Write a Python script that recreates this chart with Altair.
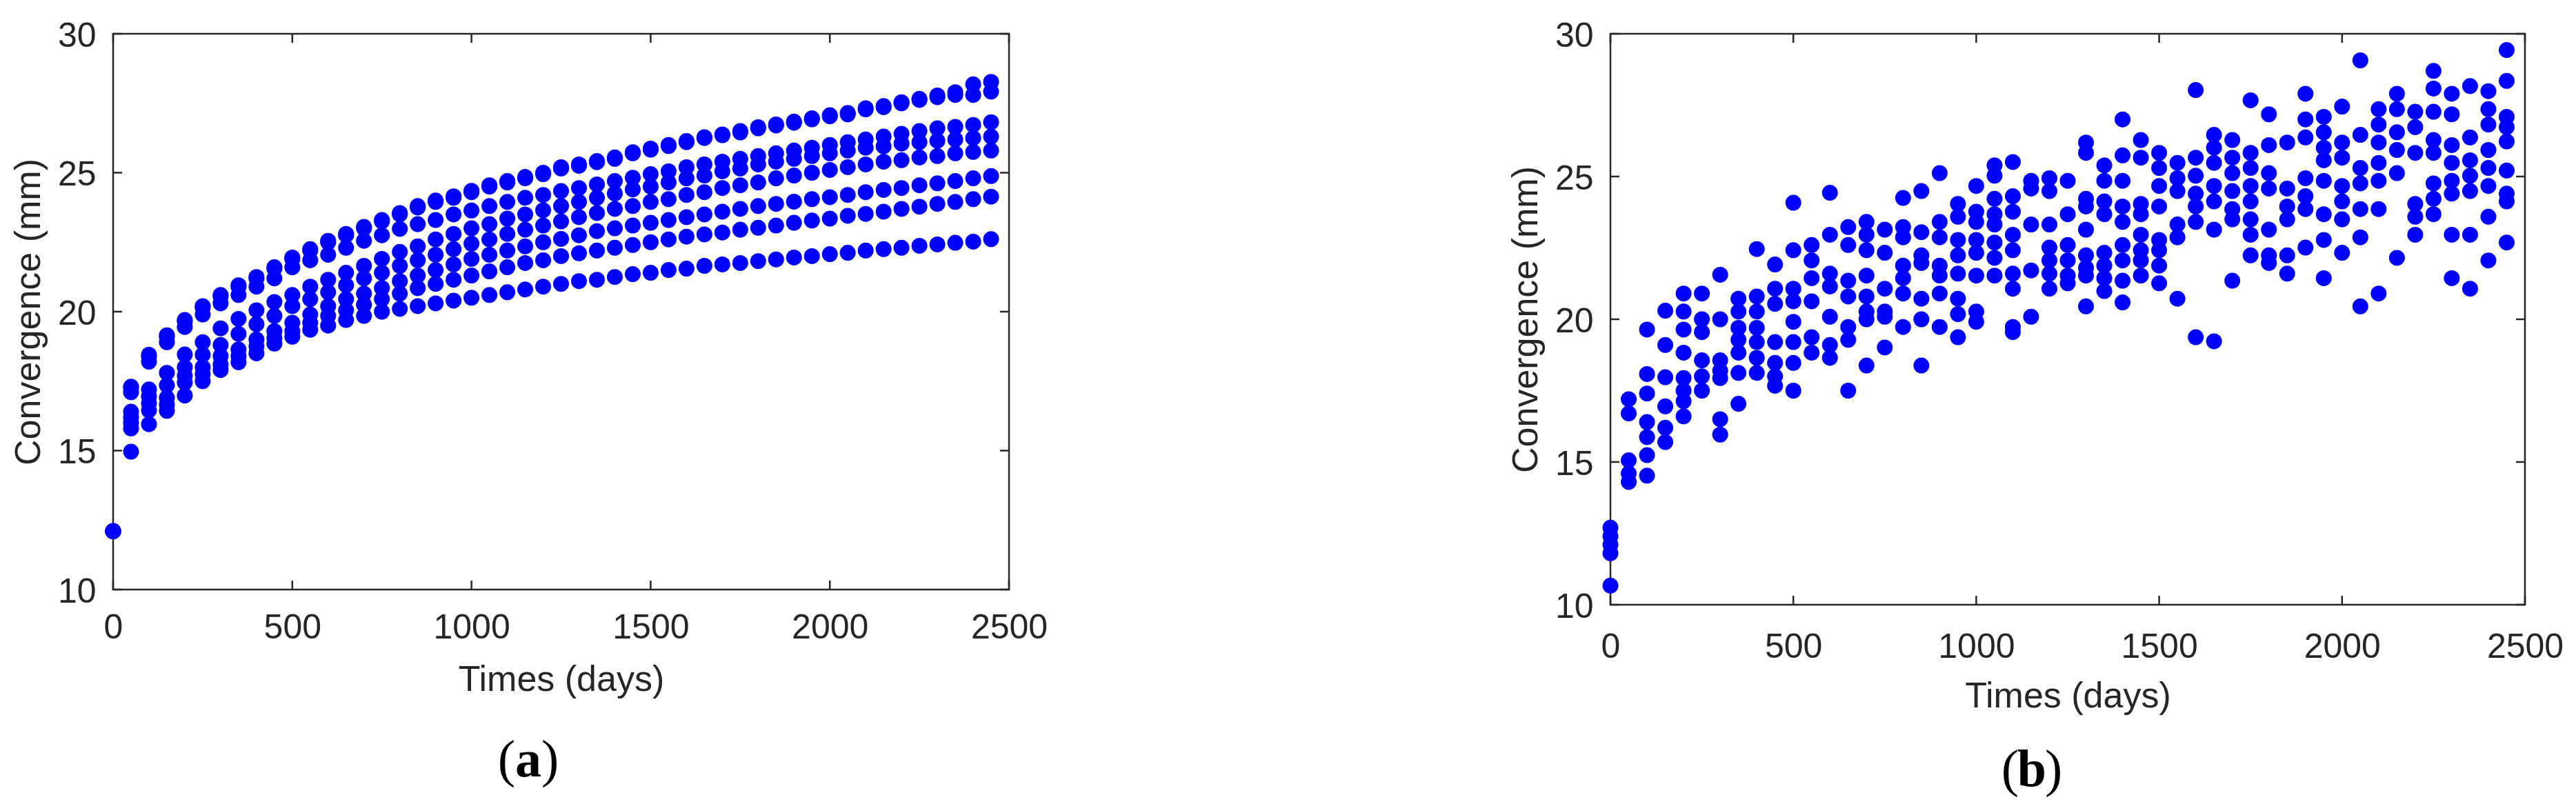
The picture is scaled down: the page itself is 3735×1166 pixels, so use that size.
import altair as alt

# ---------------- data ----------------
days = [0, 50, 100, 150, 200, 250, 300, 350, 400, 450, 500, 550, 600, 650, 700,
        750, 800, 850, 900, 950, 1000, 1050, 1100, 1150, 1200, 1250, 1300, 1350,
        1400, 1450, 1500, 1550, 1600, 1650, 1700, 1750, 1800, 1850, 1900, 1950,
        2000, 2050, 2100, 2150, 2200, 2250, 2300, 2350, 2400, 2450]

# panel (a): smooth predicted curves
a_s1a = [12.1, 17.25, 18.4, 19.1, 19.65, 20.15, 20.55, 20.9, 21.2, 21.55, 21.9, 22.2, 22.5, 22.75, 23.0,
         23.25, 23.5, 23.75, 23.95, 24.1, 24.3, 24.5, 24.65, 24.8, 24.95, 25.15, 25.25, 25.38, 25.5, 25.7,
         25.83, 25.96, 26.1, 26.25, 26.35, 26.45, 26.6, 26.7, 26.8, 26.92, 27.03, 27.1, 27.28, 27.36, 27.5,
         27.62, 27.72, 27.8, 27.8, 27.92]
a_s1b = [12.1, 17.3, 18.45, 19.15, 19.7, 20.2, 20.6, 20.95, 21.25, 21.6, 21.95, 22.25, 22.55, 22.8, 23.05,
         23.3, 23.55, 23.8, 24.0, 24.15, 24.35, 24.55, 24.7, 24.85, 25.0, 25.2, 25.3, 25.42, 25.55, 25.74,
         25.87, 26.0, 26.14, 26.28, 26.38, 26.5, 26.64, 26.74, 26.84, 26.96, 27.07, 27.15, 27.32, 27.4, 27.54,
         27.66, 27.78, 27.9, 28.18, 28.27]
a_s2 = [12.1, 17.1, 18.2, 18.9, 19.45, 19.9, 20.3, 20.6, 20.9, 21.2, 21.6, 21.85, 22.05, 22.3, 22.55,
        22.75, 22.98, 23.15, 23.3, 23.5, 23.64, 23.8, 23.95, 24.1, 24.2, 24.34, 24.45, 24.58, 24.7, 24.82,
        24.95, 25.05, 25.2, 25.3, 25.4, 25.5, 25.6, 25.7, 25.8, 25.9, 26.0, 26.1, 26.2, 26.3, 26.4,
        26.5, 26.6, 26.65, 26.72, 26.82]
a_b1 = [12.1, 16.4, 17.2, 17.8, 18.46, 18.9, 19.4, 19.74, 20.05, 20.35, 20.6, 20.9, 21.15, 21.4, 21.65,
        21.9, 22.15, 22.35, 22.6, 22.8, 23.0, 23.15, 23.35, 23.5, 23.65, 23.8, 23.95, 24.1, 24.25, 24.4,
        24.5, 24.65, 24.8, 24.9, 25.05, 25.15, 25.3, 25.4, 25.5, 25.6, 25.7, 25.8, 25.9, 25.95, 26.05,
        26.1, 26.15, 26.2, 26.25, 26.3]
a_b2 = [12.1, 16.2, 16.95, 17.35, 18.0, 18.45, 18.8, 19.2, 19.55, 19.85, 20.2, 20.45, 20.7, 20.95, 21.2,
        21.4, 21.65, 21.85, 22.05, 22.25, 22.45, 22.6, 22.8, 22.95, 23.1, 23.25, 23.4, 23.55, 23.7, 23.8,
        23.95, 24.05, 24.2, 24.3, 24.45, 24.55, 24.65, 24.8, 24.9, 25.0, 25.1, 25.2, 25.3, 25.4, 25.45,
        25.55, 25.6, 25.7, 25.75, 25.8]
a_b3 = [12.1, 16.0, 16.7, 16.9, 17.7, 18.0, 18.4, 18.64, 19.0, 19.3, 19.6, 19.9, 20.2, 20.45, 20.65,
        20.85, 21.1, 21.3, 21.5, 21.7, 21.9, 22.05, 22.2, 22.35, 22.5, 22.62, 22.75, 22.9, 23.0, 23.1,
        23.2, 23.3, 23.4, 23.5, 23.6, 23.7, 23.8, 23.88, 23.96, 24.05, 24.12, 24.2, 24.3, 24.38, 24.45,
        24.55, 24.62, 24.7, 24.8, 24.88]
a_b4 = [12.1, 15.8, 16.45, 16.65, 17.45, 17.75, 18.1, 18.4, 18.75, 19.05, 19.3, 19.6, 19.85, 20.05, 20.25,
        20.45, 20.65, 20.85, 21.0, 21.15, 21.3, 21.45, 21.6, 21.75, 21.85, 22.0, 22.1, 22.2, 22.3, 22.4,
        22.5, 22.6, 22.7, 22.78, 22.85, 22.95, 23.02, 23.1, 23.2, 23.28, 23.35, 23.45, 23.52, 23.6, 23.7,
        23.78, 23.88, 23.95, 24.05, 24.14]
a_low = [12.1, 14.96, 15.95, 16.43, 16.98, 17.5, 17.9, 18.18, 18.5, 18.85, 19.1, 19.35, 19.5, 19.7, 19.85,
         20.0, 20.1, 20.2, 20.3, 20.4, 20.5, 20.6, 20.7, 20.8, 20.9, 21.0, 21.1, 21.15, 21.25, 21.35,
         21.4, 21.5, 21.55, 21.65, 21.7, 21.75, 21.82, 21.88, 21.95, 22.0, 22.07, 22.12, 22.2, 22.25, 22.3,
         22.37, 22.42, 22.48, 22.52, 22.61]

# panel (b): measured convergence, one list per day
b_cols = [
    [12.7, 12.4, 12.1, 11.8, 10.67],
    [17.2, 16.7, 15.06, 14.6, 14.3],
    [19.64, 18.08, 17.4, 16.4, 15.87, 15.24, 14.52],
    [20.3, 19.1, 17.97, 16.95, 16.2, 15.7],
    [20.9, 20.27, 19.64, 18.83, 17.94, 17.5, 17.13, 16.6],
    [20.9, 20.0, 19.55, 18.56, 18.0, 17.5],
    [21.56, 20.0, 18.56, 18.2, 17.94, 16.5, 15.96],
    [20.72, 20.27, 19.7, 19.28, 18.83, 18.12, 17.04],
    [22.46, 20.8, 20.27, 19.7, 19.2, 18.65, 18.12],
    [21.92, 21.07, 20.54, 19.2, 18.47, 18.0, 17.67],
    [24.08, 22.42, 21.07, 20.63, 19.91, 19.2, 18.47, 17.5],
    [22.6, 22.06, 21.44, 20.63, 19.37, 18.83],
    [24.43, 22.96, 21.6, 21.15, 20.09, 19.1, 18.65],
    [23.23, 22.6, 21.35, 20.8, 19.73, 19.28, 17.5],
    [23.41, 22.96, 22.42, 21.53, 20.8, 20.27, 20.0, 18.38],
    [23.14, 22.33, 21.07, 20.27, 20.09, 19.01],
    [24.25, 23.23, 22.87, 21.88, 21.44, 20.9, 19.73],
    [24.49, 23.05, 22.24, 21.97, 20.72, 20.0, 18.38],
    [25.12, 23.41, 22.87, 21.88, 21.53, 20.9, 19.73],
    [24.04, 23.59, 22.78, 22.24, 21.6, 20.72, 20.18, 19.37],
    [24.67, 23.77, 23.41, 22.78, 22.33, 21.53, 20.27, 19.91],
    [25.39, 25.03, 24.22, 23.68, 23.32, 22.69, 22.15, 21.53],
    [25.51, 24.31, 23.77, 22.96, 22.42, 21.6, 21.07, 19.73, 19.55],
    [24.85, 24.58, 23.32, 21.71, 20.09],
    [24.94, 24.49, 23.32, 22.51, 22.06, 21.6, 21.07],
    [24.85, 23.68, 22.6, 22.06, 21.53, 21.26],
    [26.19, 25.83, 24.22, 23.95, 23.14, 22.24, 21.8, 21.53, 20.45],
    [25.39, 24.85, 24.13, 23.68, 22.33, 21.88, 21.44, 20.99],
    [27.0, 25.74, 24.85, 23.95, 23.41, 22.6, 22.06, 21.35, 20.59],
    [26.28, 25.66, 24.04, 23.68, 22.96, 22.42, 22.06, 21.53],
    [25.83, 25.3, 24.67, 23.95, 22.78, 22.42, 21.88, 21.26],
    [25.48, 24.94, 24.49, 23.32, 22.87, 20.72],
    [28.03, 25.66, 25.03, 24.4, 23.95, 23.41, 19.37],
    [26.46, 26.01, 25.48, 24.67, 24.13, 23.14, 19.23],
    [26.28, 25.66, 25.12, 24.49, 23.86, 23.5, 21.35],
    [27.67, 25.83, 25.3, 24.67, 24.13, 23.5, 22.96, 22.24],
    [27.18, 26.1, 25.12, 24.58, 23.14, 22.24, 21.97],
    [26.19, 24.58, 23.95, 23.5, 22.24, 21.6],
    [27.9, 27.0, 26.37, 24.94, 24.31, 23.86, 22.51],
    [27.09, 26.55, 26.01, 25.57, 24.85, 23.68, 22.78, 21.44],
    [27.45, 26.19, 25.66, 24.67, 24.13, 23.5, 22.33],
    [29.07, 26.46, 25.3, 24.76, 23.86, 22.87, 20.45],
    [27.36, 26.82, 26.19, 25.48, 24.85, 23.86, 20.9],
    [27.9, 27.36, 26.55, 25.93, 25.12, 22.15],
    [27.27, 26.73, 25.83, 24.04, 23.59, 22.96],
    [28.7, 28.08, 27.27, 26.28, 25.83, 24.76, 24.22, 23.68],
    [27.9, 27.18, 26.1, 25.48, 24.85, 24.4, 22.96, 21.44],
    [28.17, 26.37, 25.57, 25.03, 24.49, 22.96, 21.07],
    [27.99, 27.36, 26.82, 25.93, 25.3, 24.67, 23.59, 22.06],
    [29.43, 28.35, 27.09, 26.73, 26.23, 25.21, 24.4, 24.13, 22.69],
]

x_ticks = [0, 500, 1000, 1500, 2000, 2500]
y_ticks = [10, 15, 20, 25, 30]
x_title = "Times (days)"
y_title = "Convergence (mm)"

rows_a = [{"day": d, "conv": v}
          for s in [a_s1a, a_s1b, a_s2, a_b1, a_b2, a_b3, a_b4, a_low]
          for d, v in zip(days, s)]
rows_b = [{"day": d, "conv": v} for d, col in zip(days, b_cols) for v in col]

# ---------------- styling ----------------
FONT = "Liberation Sans"
SERIF = "Liberation Serif"
TXT = "#262626"
BLUE = "#0000FF"
TICK = 13


def panel(rows, W, H, letter, cap_x, cap_y, xlab_pad, xtitle_pad, spacer=None):
    xs = alt.Scale(domain=[0, 2500], nice=False, zero=False)
    ys = alt.Scale(domain=[10, 30], nice=False, zero=False)
    xaxis = alt.Axis(
        values=x_ticks, format="d", title=x_title, grid=False, domain=False,
        ticks=False, tickSize=0, labelPadding=xlab_pad, labelFont=FONT,
        labelFontSize=50, labelColor=TXT, labelFlush=False, labelOverlap=False,
        titleFont=FONT, titleFontSize=52, titleFontWeight="normal",
        titleColor=TXT, titlePadding=xtitle_pad)
    yaxis = alt.Axis(
        values=y_ticks, format="d", title=y_title, grid=False, domain=False,
        ticks=False, tickSize=0, labelPadding=25, labelOffset=3, labelFont=FONT,
        labelFontSize=50, labelColor=TXT, labelFlush=False, labelOverlap=False,
        titleFont=FONT, titleFontSize=52, titleFontWeight="normal",
        titleColor=TXT, titlePadding=15)
    xt = alt.Data(values=[{"day": v} for v in x_ticks])
    yt = alt.Data(values=[{"conv": v} for v in y_ticks])
    rule = dict(color=TXT, strokeWidth=2.5)

    top = alt.Chart(xt).mark_rule(**rule).encode(
        x=alt.X("day:Q", scale=xs, axis=xaxis), y=alt.value(0), y2=alt.value(TICK))
    bottom = alt.Chart(xt).mark_rule(**rule).encode(
        x=alt.X("day:Q", scale=xs, axis=xaxis), y=alt.value(H), y2=alt.value(H - TICK))
    left = alt.Chart(yt).mark_rule(**rule).encode(
        y=alt.Y("conv:Q", scale=ys, axis=yaxis), x=alt.value(0), x2=alt.value(TICK))
    right = alt.Chart(yt).mark_rule(**rule).encode(
        y=alt.Y("conv:Q", scale=ys, axis=yaxis), x=alt.value(W - TICK), x2=alt.value(W))

    pts = alt.Chart(alt.Data(values=rows)).mark_circle(
        size=529, opacity=1, color=BLUE, strokeWidth=0).encode(
        x=alt.X("day:Q", scale=xs, axis=xaxis),
        y=alt.Y("conv:Q", scale=ys, axis=yaxis))

    cap_data = alt.Data(values=[{"o": "(", "l": letter, "c": ")"}])
    cap_o = alt.Chart(cap_data).mark_text(font=SERIF, fontSize=76, color="black",
                                          align="right", baseline="middle").encode(
        text="o:N", x=alt.value(cap_x - 19), y=alt.value(cap_y))
    cap_l = alt.Chart(cap_data).mark_text(font=SERIF, fontSize=76, fontWeight="bold",
                                          color="black", align="center",
                                          baseline="middle").encode(
        text="l:N", x=alt.value(cap_x), y=alt.value(cap_y))
    cap_c = alt.Chart(cap_data).mark_text(font=SERIF, fontSize=76, color="black",
                                          align="left", baseline="middle").encode(
        text="c:N", x=alt.value(cap_x + 19), y=alt.value(cap_y))

    layers = [top, bottom, left, right, pts, cap_o, cap_l, cap_c]
    if spacer is not None:
        sp = alt.Chart(alt.Data(values=[{"s": 0}])).mark_rule(
            color="white", strokeWidth=1).encode(
            x=alt.value(2), y=alt.value(-spacer), y2=alt.value(-spacer + 2))
        layers.insert(0, sp)
    return alt.layer(*layers).properties(width=W, height=H)


panel_a = panel(rows_a, 1299, 806, "a", 602, 1054, 30, 25, spacer=32)
panel_b = panel(rows_b, 1326, 828, "b", 611, 1068, 36, 21)

chart = alt.hconcat(panel_a, panel_b, spacing=665).configure_view(
    stroke=TXT, strokeWidth=2.5).properties(
    padding={"left": 6, "top": 7, "right": 5, "bottom": 5},
    background="white")

chart.save("out.html", embed_options={"renderer": "svg", "actions": False})
